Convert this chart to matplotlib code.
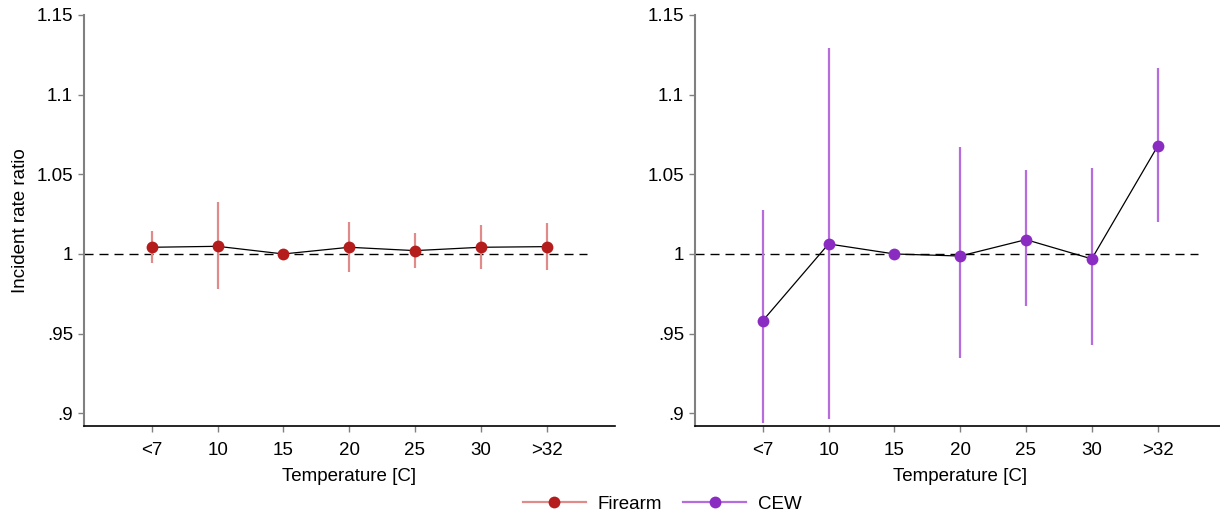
import matplotlib
matplotlib.use("Agg")
import matplotlib.pyplot as plt
from matplotlib.lines import Line2D

plt.rcParams['font.family'] = ['Liberation Sans', 'DejaVu Sans']

categories = ["<7", "10", "15", "20", "25", "30", ">32"]

firearm_irr = [1.0042, 1.0048, 1.0000, 1.0042, 1.0021, 1.0042, 1.0046]
firearm_lo = [0.9942, 0.9778, 1.0000, 0.9885, 0.9910, 0.9906, 0.9901]
firearm_hi = [1.0143, 1.0327, 1.0000, 1.0203, 1.0132, 1.0180, 1.0193]

cew_irr = [0.9581, 1.0063, 1.0000, 0.9987, 1.0090, 0.9969, 1.0676]
cew_lo = [0.8938, 0.8964, 1.0000, 0.9347, 0.9671, 0.9426, 1.0203]
cew_hi = [1.0274, 1.1294, 1.0000, 1.0672, 1.0525, 1.0542, 1.1170]

yticks = [0.9, 0.95, 1.0, 1.05, 1.1, 1.15]
ytick_labels = [".9", ".95", "1", "1.05", "1.1", "1.15"]

series = [
    ("Firearm", firearm_irr, firearm_lo, firearm_hi, "#b51c1c", "#e08a8a"),
    ("CEW", cew_irr, cew_lo, cew_hi, "#8a2cc2", "#b66cdc"),
]

W, H = 1220, 517
fig = plt.figure(figsize=(W / 100, H / 100), dpi=100)

# axes rectangles in pixel units: left, top, right, bottom
boxes = [(84, 15, 615, 425.7), (695, 15, 1226, 425.7)]
x = list(range(1, len(categories) + 1))

for i, (box, (name, irr, lo, hi, mcol, bcol)) in enumerate(zip(boxes, series)):
    l, t, r, b = box
    ax = fig.add_axes([l / W, 1 - b / H, (r - l) / W, (b - t) / H])
    ax.set_xlim(-0.03, 8.04)
    ax.set_ylim(0.8922, 1.15)
    ax.vlines(x, lo, hi, colors=bcol, linewidth=1.6, zorder=2)
    ax.plot(x, irr, color="black", linewidth=0.9, zorder=3)
    ax.plot(x, irr, linestyle="none", marker="o", markersize=8.5,
            color=mcol, markeredgewidth=0, zorder=4)
    ax.plot([-0.03, 7.62], [1.0, 1.0], color="black", linewidth=1.0,
            dashes=(6.5, 4.3), zorder=1)
    ax.set_xticks(x)
    ax.set_xticklabels(categories)
    ax.set_yticks(yticks)
    ax.set_yticklabels(ytick_labels)
    ax.tick_params(axis="both", direction="out", length=4, width=1,
                   color="#808080", labelsize=13.5, pad=8)
    ax.tick_params(axis="y", pad=4)
    for side in ("top", "right"):
        ax.spines[side].set_visible(False)
    ax.spines["left"].set_color("#808080")
    ax.spines["left"].set_linewidth(1.5)
    ax.spines["bottom"].set_color("black")
    ax.spines["bottom"].set_linewidth(1.2)
    ax.set_xlabel("Temperature [C]", fontsize=13.5, labelpad=6)
    if i == 0:
        ax.set_ylabel("Incident rate ratio", fontsize=13.5, labelpad=5)

handles = [
    Line2D([], [], color=bcol, linewidth=1.6, marker="o", markersize=8.5,
           markerfacecolor=mcol, markeredgewidth=0, label=name)
    for name, _, _, _, mcol, bcol in series
]
fig.legend(handles=handles, loc="center", bbox_to_anchor=(662 / W, 1 - 504 / H),
           ncol=2, frameon=False, fontsize=13.5, handlelength=3.4,
           columnspacing=1.1, handletextpad=0.6)

fig.savefig("out.png", dpi=100)
